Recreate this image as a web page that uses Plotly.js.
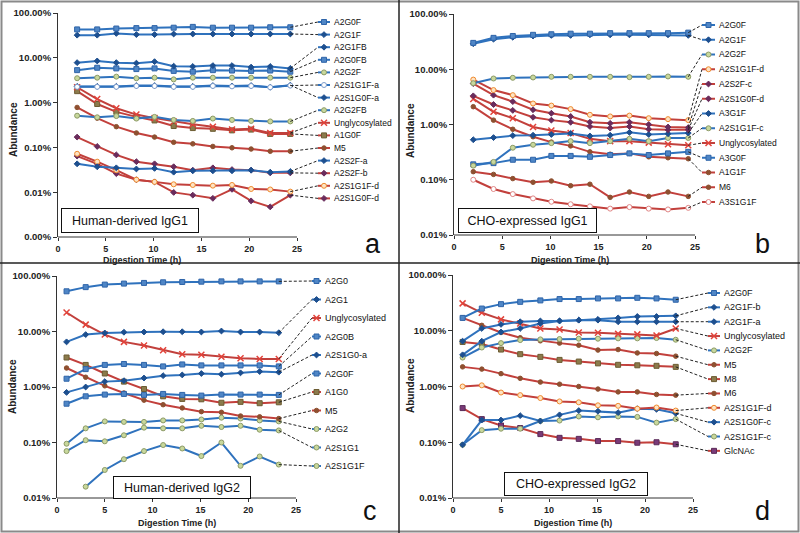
<!DOCTYPE html>
<html><head><meta charset="utf-8">
<script src="https://cdn.plot.ly/plotly-3.0.1.min.js"></script>
<style>html,body{margin:0;padding:0;background:#fff}#chart{width:800px;height:533px}</style>
</head><body><div id="chart"></div>
<script>
// ---------------- DATA ----------------
// Digestion time (h)
const timeA = [2.0, 4.1, 6.1, 8.2, 10.1, 12.1, 14.1, 16.2, 18.2, 20.2, 22.2, 24.3];
const timeB = [2.0, 4.1, 6.1, 8.2, 10.1, 12.1, 14.1, 16.2, 18.2, 20.2, 22.2, 24.3];
const timeC = [1.0, 3.0, 5.0, 7.0, 9.1, 11.1, 13.1, 15.1, 17.2, 19.2, 21.2, 23.2];
const timeD = [1.0, 3.0, 5.0, 7.0, 9.1, 11.1, 13.1, 15.1, 17.2, 19.2, 21.2, 23.2];

// Panel a: Human-derived IgG1 (abundance, %)
const a_A2G0F     = [43, 43, 45, 46, 46, 47, 49, 47, 47, 47, 48, 48];
const a_A2G1F     = [32, 32, 35, 33, 33, 34, 34, 34, 34, 34, 34, 34];
const a_A2G1FB    = [7.8, 8.5, 7.8, 7.6, 8.2, 6.5, 6.4, 6.7, 6.7, 6.2, 6.4, 5.8];
const a_A2G0FB    = [5.3, 6.0, 5.8, 5.6, 5.8, 5.1, 4.9, 5.3, 5.2, 5.1, 5.2, 4.9];
const a_A2G2F     = [3.5, 3.6, 3.8, 3.5, 3.6, 3.3, 3.6, 3.6, 3.6, 3.6, 3.6, 3.6];
const a_A2S1G1F_a = [2.25, 2.25, 2.25, 2.35, 2.35, 2.25, 2.25, 2.35, 2.3, 2.35, 2.2, 2.4];
const a_A2S1G0F_a = [2.3, 2.3, 2.3, 2.4, 2.4, 2.3, 2.3, 2.4, 2.35, 2.4, 2.2, 2.45];
const a_A2G2FB    = [0.51, 0.47, 0.50, 0.44, 0.48, 0.41, 0.39, 0.44, 0.41, 0.39, 0.38, 0.38];
const a_Unglyc    = [2.2, 1.2, 0.75, 0.54, 0.45, 0.38, 0.33, 0.29, 0.25, 0.26, 0.21, 0.21];
const a_A1G0F     = [1.8, 0.93, 0.62, 0.48, 0.40, 0.30, 0.27, 0.26, 0.24, 0.25, 0.20, 0.20];
const a_M5        = [0.78, 0.45, 0.29, 0.21, 0.17, 0.13, 0.12, 0.105, 0.098, 0.092, 0.082, 0.082];
const a_A2S2F_a   = [0.043, 0.037, 0.035, 0.033, 0.034, 0.028, 0.030, 0.030, 0.030, 0.031, 0.028, 0.029];
const a_A2S2F_b   = [0.17, 0.105, 0.068, 0.048, 0.043, 0.037, 0.031, 0.035, 0.032, 0.031, 0.027, 0.027];
const a_A2S1G1F_d = [0.072, 0.048, 0.031, 0.019, 0.017, 0.015, 0.0145, 0.014, 0.0145, 0.0118, 0.0115, 0.0103];
const a_A2S1G0F_d = [0.064, 0.043, 0.026, 0.019, 0.017, 0.0099, 0.0086, 0.0073, 0.0116, 0.0064, 0.0047, 0.0086];

// Panel b: CHO-expressed IgG1
const b_A2G0F     = [30, 37, 40, 42, 43, 44, 44, 45, 45, 45, 45, 46];
const b_A2G1F     = [29, 35, 38, 40, 41, 41, 42, 42, 42, 42, 42, 41];
const b_A2G2F     = [5.6, 6.8, 7.0, 7.1, 7.3, 7.3, 7.3, 7.3, 7.2, 7.3, 7.4, 7.3];
const b_A2S1G1F_d = [6.5, 4.2, 3.4, 2.4, 2.2, 1.9, 1.5, 1.4, 1.45, 1.3, 1.25, 1.2];
const b_A2S2F_c   = [5.5, 3.4, 2.6, 1.85, 1.6, 1.4, 1.1, 1.05, 1.1, 1.0, 0.9, 0.88];
const b_A2S1G0F_d = [3.3, 2.3, 1.8, 1.35, 1.2, 1.1, 0.92, 0.86, 0.92, 0.82, 0.80, 0.80];
const b_A3G1F     = [0.53, 0.58, 0.63, 0.64, 0.66, 0.69, 0.62, 0.64, 0.72, 0.66, 0.68, 0.70];
const b_A2S1G1F_c = [0.18, 0.21, 0.38, 0.43, 0.46, 0.50, 0.46, 0.50, 0.55, 0.50, 0.57, 0.57];
const b_Unglyc    = [2.9, 1.7, 1.3, 0.9, 0.78, 0.70, 0.55, 0.50, 0.50, 0.47, 0.44, 0.42];
const b_A3G0F     = [0.19, 0.20, 0.23, 0.23, 0.27, 0.27, 0.26, 0.28, 0.30, 0.28, 0.30, 0.32];
const b_A1G1F     = [2.1, 1.2, 0.82, 0.60, 0.48, 0.41, 0.32, 0.29, 0.30, 0.26, 0.25, 0.24];
const b_M6        = [0.14, 0.125, 0.105, 0.09, 0.095, 0.078, 0.083, 0.048, 0.06, 0.05, 0.06, 0.05];
const b_A3S1G1F   = [0.10, 0.068, 0.055, 0.046, 0.040, 0.036, 0.033, 0.030, 0.032, 0.030, 0.029, 0.031];

// Panel c: Human-derived IgG2
const c_A2G0      = [53, 63, 70, 73, 75, 77, 78, 79, 80, 80, 80, 80];
const c_A2G1      = [6.5, 8.8, 9.4, 9.7, 9.8, 9.9, 9.9, 9.8, 10.2, 9.8, 9.8, 9.5];
const c_Unglyc    = [22, 13.3, 8.8, 6.5, 5.6, 4.6, 3.9, 3.8, 3.5, 3.3, 3.2, 3.2];
const c_A2G0B     = [1.41, 2.1, 2.5, 2.6, 2.5, 2.35, 2.55, 2.45, 2.45, 2.45, 2.45, 2.35];
const c_A2S1G0_a  = [0.8, 1.0, 1.25, 1.3, 1.45, 1.6, 1.65, 1.75, 1.7, 1.8, 1.9, 1.85];
const c_A2G0F     = [0.5, 0.68, 0.73, 0.75, 0.72, 0.75, 0.72, 0.70, 0.73, 0.73, 0.73, 0.72];
const c_A1G0      = [3.4, 2.5, 1.75, 1.25, 0.92, 0.68, 0.61, 0.60, 0.52, 0.54, 0.51, 0.53];
const c_M5        = [2.2, 1.5, 1.05, 0.78, 0.58, 0.48, 0.42, 0.36, 0.35, 0.30, 0.29, 0.27];
const c_A2G2      = [0.095, 0.18, 0.24, 0.235, 0.235, 0.25, 0.25, 0.26, 0.28, 0.27, 0.25, 0.24];
const c_A2S1G1    = [0.07, 0.11, 0.105, 0.135, 0.185, 0.18, 0.18, 0.20, 0.19, 0.20, 0.17, 0.165];
const c_A2S1G1F   = [null, 0.016, 0.032, 0.05, 0.07, 0.09, 0.078, 0.057, 0.10, 0.038, 0.056, 0.04];

// Panel d: CHO-expressed IgG2
const d_A2G0F     = [17, 25, 30, 33, 35, 37, 37, 38, 38, 39, 38, 36];
const d_A2G1F_b   = [6.5, 11, 13, 14.5, 15, 15, 15.5, 16, 17, 18, 18, 18.5];
const d_A2G1F_a   = [3.7, 6.5, 9.5, 11, 13.5, 15, 15.5, 15.5, 14.5, 14.5, 14.5, 14.5];
const d_Unglyc    = [31, 21, 16, 13.5, 11, 10.5, 9.3, 9.2, 8.8, 8.6, 8.2, 11];
const d_A2G2F     = [3.3, 5.0, 6.0, 6.8, 7.0, 7.1, 7.2, 7.2, 7.3, 7.3, 7.4, 6.9];
const d_M5        = [17, 12.5, 9.3, 7.5, 6.6, 6.0, 5.5, 4.5, 4.6, 4.0, 3.9, 3.5];
const d_M8        = [6.3, 5.8, 4.6, 3.8, 3.4, 3.0, 2.8, 2.6, 2.45, 2.4, 2.35, 2.25];
const d_M6        = [2.25, 2.05, 1.7, 1.4, 1.2, 1.1, 1.0, 0.9, 0.8, 0.8, 0.72, 0.7];
const d_A2S1G1F_d = [1.0, 1.05, 0.78, 0.7, 0.62, 0.54, 0.52, 0.46, 0.45, 0.40, 0.42, 0.37];
const d_A2S1G0F_c = [0.09, 0.25, 0.25, 0.30, 0.24, 0.31, 0.37, 0.36, 0.34, 0.40, 0.39, 0.33];
const d_A2S1G1F_c = [0.09, 0.165, 0.175, 0.175, 0.24, 0.245, 0.29, 0.28, 0.29, 0.285, 0.225, 0.26];
const d_GlcNAc    = [0.41, 0.26, 0.20, 0.18, 0.14, 0.12, 0.115, 0.105, 0.105, 0.098, 0.10, 0.092];

// Tick labels
const xTicks = [0, 5, 10, 15, 20, 25];
const yTicksA = [100, 10, 1, 0.1, 0.01, 0.001];
const yTextA  = ["100.00%", "10.00%", "1.00%", "0.10%", "0.01%", "0.00%"];
const yTicks  = [100, 10, 1, 0.1, 0.01];
const yText   = ["100.00%", "10.00%", "1.00%", "0.10%", "0.01%"];
const panelTitles = ["Human-derived IgG1", "CHO-expressed IgG1", "Human-derived IgG2", "CHO-expressed IgG2"];
const panelLetters = ["a", "b", "c", "d"];

// --------------- STYLES / LAYOUT ---------------
const W = 800, H = 533;
const BLUE = '#2f72bd', RED = '#c2403c';
const ST = {
  sqBlue:   {line: BLUE, sym: 'square', size: 5, fill: '#4f86c6', edge: '#2f64a8'},
  dotBlue:  {line: BLUE, sym: 'diamond', size: 4.5, fill: '#1d4f8f', edge: '#1d4f8f'},
  circOlive:{line: BLUE, sym: 'circle', size: 5, fill: '#c8d89c', edge: '#8c9a66'},
  circWhite:{line: BLUE, sym: 'circle', size: 5, fill: '#ffffff', edge: '#7d9ccc'},
  xRed:     {line: RED, sym: 'x-thin', size: 6, fill: '#e2433a', edge: '#e2433a', lw: 1.5},
  sqBrown:  {line: RED, sym: 'square', size: 5, fill: '#8c7b4c', edge: '#6c5c32'},
  dotBrown: {line: RED, sym: 'circle', size: 4.5, fill: '#8e5030', edge: '#8e5030'},
  dotPurple:{line: RED, sym: 'diamond', size: 4.5, fill: '#6a2c5c', edge: '#6a2c5c'},
  circOrange:{line: RED, sym: 'circle', size: 5, fill: '#fde3c4', edge: '#ef8a2e'},
  circPink: {line: RED, sym: 'circle', size: 5, fill: '#ffffff', edge: '#e08585'},
  sqPurple: {line: RED, sym: 'square', size: 5, fill: '#7a3a78', edge: '#5a2a58'}
};

const PANELS = [
  {xa:'x',  ya:'y',  x0:58,  ppu:9.56, xEnd:398, top:13,  bot:237, r:[-3,2], tv:yTicksA, tt:yTextA,
   seg:[318,330], tx:332, ly0:22,  lstep:12.6, lfont:8.5,
   box:{cx:130, cy:220.5, w:138, h:25}, letter:{x:373, y:244}, ytitle:{x:13, y:130}, xtitle:{x:142, y:259.5},
   time: timeA,
   series: [
     ['A2G0F', a_A2G0F, 'sqBlue'], ['A2G1F', a_A2G1F, 'dotBlue'], ['A2G1FB', a_A2G1FB, 'dotBlue'],
     ['A2G0FB', a_A2G0FB, 'sqBlue'], ['A2G2F', a_A2G2F, 'circOlive'], ['A2S1G1F-a', a_A2S1G1F_a, 'circWhite'],
     ['A2S1G0F-a', a_A2S1G0F_a, 'dotBlue'], ['A2G2FB', a_A2G2FB, 'circOlive'], ['Unglycosylated', a_Unglyc, 'xRed'],
     ['A1G0F', a_A1G0F, 'sqBrown'], ['M5', a_M5, 'dotBrown'], ['A2S2F-a', a_A2S2F_a, 'dotBlue'],
     ['A2S2F-b', a_A2S2F_b, 'dotPurple'], ['A2S1G1F-d', a_A2S1G1F_d, 'circOrange'], ['A2S1G0F-d', a_A2S1G0F_d, 'dotPurple']
   ]},
  {xa:'x2', ya:'y2', x0:454, ppu:9.64, xEnd:796, top:14,  bot:235, r:[-2,2], tv:yTicks, tt:yText,
   seg:[702,715], tx:717, ly0:25,  lstep:14.75, lfont:8.5,
   box:{cx:527.5, cy:220.5, w:139, h:25}, letter:{x:762, y:244}, ytitle:{x:410, y:130}, xtitle:{x:570, y:259.5},
   time: timeB,
   series: [
     ['A2G0F', b_A2G0F, 'sqBlue'], ['A2G1F', b_A2G1F, 'dotBlue'], ['A2G2F', b_A2G2F, 'circOlive'],
     ['A2S1G1F-d', b_A2S1G1F_d, 'circOrange'], ['A2S2F-c', b_A2S2F_c, 'dotPurple'], ['A2S1G0F-d', b_A2S1G0F_d, 'dotPurple'],
     ['A3G1F', b_A3G1F, 'dotBlue'], ['A2S1G1F-c', b_A2S1G1F_c, 'circOlive'], ['Unglycosylated', b_Unglyc, 'xRed'],
     ['A3G0F', b_A3G0F, 'sqBlue'], ['A1G1F', b_A1G1F, 'dotBrown'], ['M6', b_M6, 'dotBrown'], ['A3S1G1F', b_A3S1G1F, 'circPink']
   ]},
  {xa:'x3', ya:'y3', x0:57,  ppu:9.56, xEnd:398, top:276, bot:498, r:[-2,2], tv:yTicks, tt:yText,
   seg:[312,321], tx:323, ly0:281, lstep:18.5, lfont:9,
   box:{cx:182, cy:487.5, w:138, h:23}, letter:{x:370, y:511}, ytitle:{x:12, y:387}, xtitle:{x:177, y:522.5},
   time: timeC,
   series: [
     ['A2G0', c_A2G0, 'sqBlue'], ['A2G1', c_A2G1, 'dotBlue'], ['Unglycosylated', c_Unglyc, 'xRed'],
     ['A2G0B', c_A2G0B, 'sqBlue'], ['A2S1G0-a', c_A2S1G0_a, 'dotBlue'], ['A2G0F', c_A2G0F, 'sqBlue'],
     ['A1G0', c_A1G0, 'sqBrown'], ['M5', c_M5, 'dotBrown'], ['A2G2', c_A2G2, 'circOlive'],
     ['A2S1G1', c_A2S1G1, 'circOlive'], ['A2S1G1F', c_A2S1G1F, 'circOlive']
   ]},
  {xa:'x4', ya:'y4', x0:453, ppu:9.6,  xEnd:796, top:275, bot:498, r:[-2,2], tv:yTicks, tt:yText,
   seg:[708,720], tx:722, ly0:293, lstep:14.35, lfont:9,
   box:{cx:576, cy:484, w:144, h:24}, letter:{x:762, y:511}, ytitle:{x:410, y:385}, xtitle:{x:573, y:522.5},
   time: timeD,
   series: [
     ['A2G0F', d_A2G0F, 'sqBlue'], ['A2G1F-b', d_A2G1F_b, 'dotBlue'], ['A2G1F-a', d_A2G1F_a, 'dotBlue'],
     ['Unglycosylated', d_Unglyc, 'xRed'], ['A2G2F', d_A2G2F, 'circOlive'], ['M5', d_M5, 'dotBrown'],
     ['M8', d_M8, 'sqBrown'], ['M6', d_M6, 'dotBrown'], ['A2S1G1F-d', d_A2S1G1F_d, 'circOrange'],
     ['A2S1G0F-c', d_A2S1G0F_c, 'dotBlue'], ['A2S1G1F-c', d_A2S1G1F_c, 'circOlive'], ['GlcNAc', d_GlcNAc, 'sqPurple']
   ]}
];

const FONT = 'Liberation Sans, Arial, sans-serif';
const traces = [], annotations = [], shapes = [];
const layout = {
  width: W, height: H, margin: {l:0, r:0, t:0, b:0},
  paper_bgcolor: '#fff', plot_bgcolor: 'rgba(0,0,0,0)', showlegend: false,
  font: {family: FONT, color: '#222'}
};

function mk(st) {
  return {symbol: st.sym, size: st.size, color: st.fill, line: {color: st.edge, width: st.lw || 1}};
}

PANELS.forEach((P, pi) => {
  const xn = pi === 0 ? 'xaxis' : 'xaxis' + (pi + 1);
  const yn = pi === 0 ? 'yaxis' : 'yaxis' + (pi + 1);
  const xmax = (P.xEnd - P.x0) / P.ppu;
  layout[xn] = {
    domain: [P.x0 / W, P.xEnd / W], range: [0, xmax], anchor: P.ya,
    tickvals: xTicks, ticks: 'outside', ticklen: 3, tickcolor: '#333', tickwidth: 1,
    showline: false, showgrid: false, zeroline: false,
    tickfont: {family: FONT, size: 9, color: '#222', weight: 'bold'}
  };
  layout[yn] = {
    domain: [1 - P.bot / H, 1 - P.top / H], type: 'log', range: P.r, anchor: P.xa,
    tickvals: P.tv, ticktext: P.tt, ticks: 'outside', ticklen: 4, tickcolor: '#333',
    showline: true, linecolor: '#333', linewidth: 1, showgrid: false, zeroline: false,
    tickfont: {family: FONT, size: 9.5, color: '#222', weight: 'bold'}
  };
  // x axis line only from 0 to 25
  shapes.push({type: 'line', xref: 'paper', yref: 'paper',
    x0: P.x0 / W, x1: (P.x0 + 25 * P.ppu) / W, y0: 1 - P.bot / H, y1: 1 - P.bot / H,
    line: {color: '#333', width: 1}});

  const segX0 = (P.seg[0] - P.x0) / P.ppu, segX1 = (P.seg[1] - P.x0) / P.ppu;
  const segXm = (segX0 + segX1) / 2, txX = (P.tx - P.x0) / P.ppu;

  // data series (draw in reverse so top-listed series are on top)
  const order = P.series.map((s, i) => i).reverse();
  order.forEach(i => {
    const [name, ys, sk] = P.series[i];
    const st = ST[sk];
    traces.push({type: 'scatter', mode: 'lines+markers', x: P.time, y: ys, xaxis: P.xa, yaxis: P.ya,
      name: name, line: {color: st.line, width: 2}, marker: mk(st), connectgaps: false, hoverinfo: 'name+y'});
  });

  P.series.forEach(([name, ys, sk], i) => {
    const st = ST[sk];
    const ly = P.ly0 + i * P.lstep;
    const logv = P.r[1] - (ly - P.top) / (P.bot - P.top) * (P.r[1] - P.r[0]);
    const yv = Math.pow(10, logv);
    let li = ys.length - 1;
    while (li >= 0 && (ys[li] === null || ys[li] === undefined)) li--;
    traces.push({type: 'scatter', mode: 'lines', x: [P.time[li], segX0], y: [ys[li], yv],
      xaxis: P.xa, yaxis: P.ya, line: {color: '#222', width: 1, dash: '3px,2px'}, hoverinfo: 'skip'});
    traces.push({type: 'scatter', mode: 'lines', x: [segX0, segX1], y: [yv, yv],
      xaxis: P.xa, yaxis: P.ya, line: {color: st.line, width: 2}, hoverinfo: 'skip'});
    traces.push({type: 'scatter', mode: 'markers', x: [segXm], y: [yv],
      xaxis: P.xa, yaxis: P.ya, marker: mk(st), hoverinfo: 'skip'});
    annotations.push({xref: P.xa, yref: P.ya, x: txX, y: logv, text: name, showarrow: false,
      xanchor: 'left', yanchor: 'middle', font: {family: FONT, size: P.lfont, color: '#111'}});
  });

  annotations.push({xref: 'paper', yref: 'paper', x: P.box.cx / W, y: 1 - P.box.cy / H,
    text: panelTitles[pi], showarrow: false, xanchor: 'center', yanchor: 'middle',
    width: P.box.w - 2, height: P.box.h - 2, bordercolor: '#111', borderwidth: 1, borderpad: 0,
    bgcolor: '#fff', font: {family: FONT, size: 12.5, color: '#111'}});
  annotations.push({xref: 'paper', yref: 'paper', x: P.letter.x / W, y: 1 - P.letter.y / H,
    text: panelLetters[pi], showarrow: false, xanchor: 'center', yanchor: 'middle',
    font: {family: FONT, size: 27, color: '#111'}});
  annotations.push({xref: 'paper', yref: 'paper', x: P.ytitle.x / W, y: 1 - P.ytitle.y / H,
    text: 'Abundance', textangle: -90, showarrow: false, xanchor: 'center', yanchor: 'middle',
    font: {family: FONT, size: 10, color: '#222', weight: 'bold'}});
  annotations.push({xref: 'paper', yref: 'paper', x: P.xtitle.x / W, y: 1 - P.xtitle.y / H,
    text: 'Digestion Time (h)', showarrow: false, xanchor: 'center', yanchor: 'middle',
    font: {family: FONT, size: 9, color: '#222', weight: 'bold'}});
});

shapes.push({type: 'rect', xref: 'paper', yref: 'paper', x0: 1.5 / W, x1: 1 - 1.5 / W, y0: 1.5 / H, y1: 1 - 1.5 / H,
  line: {color: '#8a8a8a', width: 2}});
shapes.push({type: 'line', xref: 'paper', yref: 'paper', x0: 399 / W, x1: 399 / W, y0: 0, y1: 1,
  line: {color: '#222', width: 1.5}});
shapes.push({type: 'line', xref: 'paper', yref: 'paper', x0: 0, x1: 1, y0: 1 - 263 / H, y1: 1 - 263 / H,
  line: {color: '#222', width: 1.5}});

layout.annotations = annotations;
layout.shapes = shapes;
Plotly.newPlot('chart', traces, layout, {staticPlot: true, displayModeBar: false});
</script></body></html>
